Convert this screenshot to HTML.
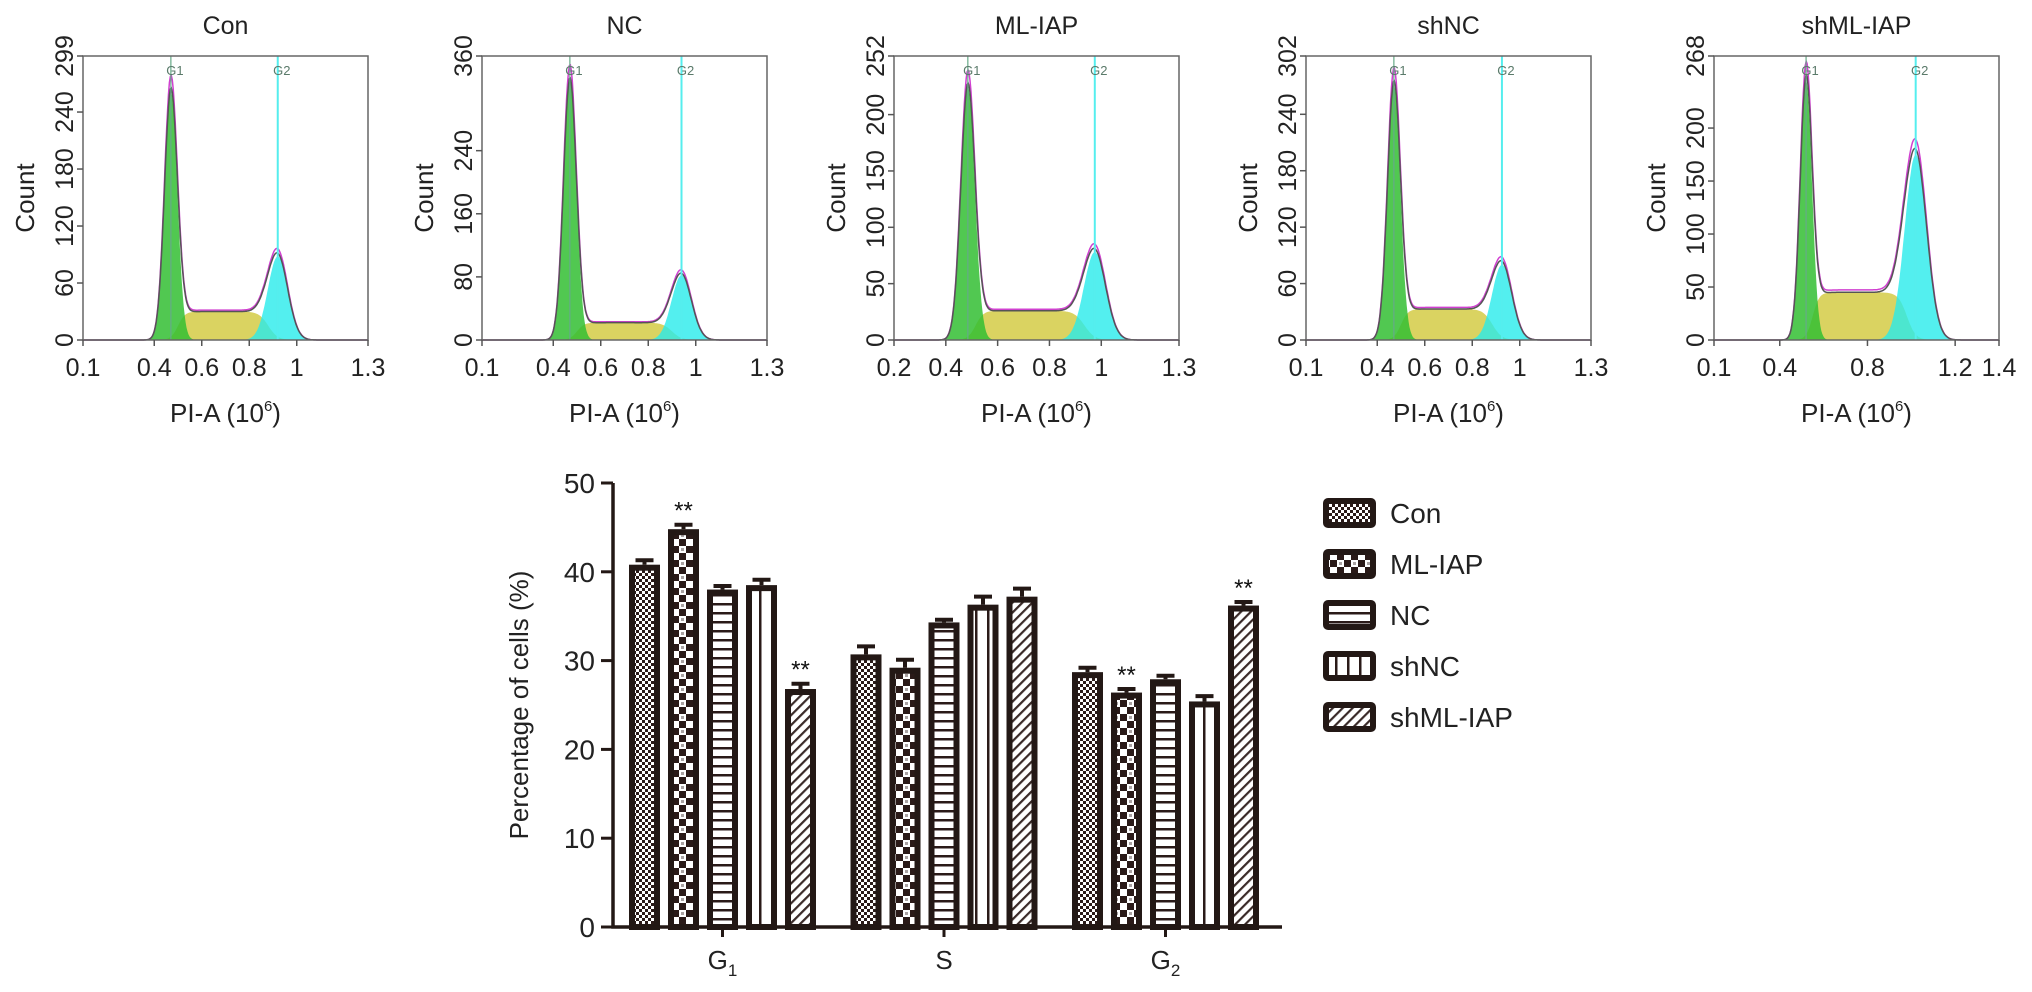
<!DOCTYPE html>
<html><head><meta charset="utf-8">
<style>
html,body{margin:0;padding:0;background:#fff;}
svg{display:block;font-family:"Liberation Sans",Arial,sans-serif;}
</style></head>
<body>
<svg id="fig" width="2032" height="992" viewBox="0 0 2032 992">
<defs>
  <pattern id="pCon" width="6" height="6" patternUnits="userSpaceOnUse">
    <rect width="6" height="6" fill="#fff"/>
    <rect width="3" height="3" fill="#2a1a18"/><rect x="3" y="3" width="3" height="3" fill="#2a1a18"/>
  </pattern>
  <pattern id="pML" width="14" height="14" patternUnits="userSpaceOnUse">
    <rect width="14" height="14" fill="#fff"/>
    <rect x="0" y="0" width="7" height="7" fill="#2a1a18"/>
    <rect x="7" y="7" width="7" height="7" fill="#2a1a18"/>
    <rect x="9" y="2" width="3" height="3" fill="#2a1a18" opacity="0.4"/>
  </pattern>
  <pattern id="pNC" width="8" height="9" patternUnits="userSpaceOnUse">
    <rect width="8" height="9" fill="#fff"/><rect y="0" width="8" height="2.5" fill="#2a1a18"/>
  </pattern>
  <pattern id="pshNC" width="12" height="8" patternUnits="userSpaceOnUse" x="3">
    <rect width="12" height="8" fill="#fff"/><rect x="0" width="2.5" height="8" fill="#2a1a18"/>
  </pattern>
  <pattern id="pshML" width="7" height="7" patternUnits="userSpaceOnUse" patternTransform="rotate(45)">
    <rect width="7" height="7" fill="#fff"/><rect width="2.2" height="7" fill="#3a2a28"/>
  </pattern>
</defs>
<g id="hists"></g>
<g id="bars"></g>
</svg>
<script>
const NS="http://www.w3.org/2000/svg";
function mk(tag,attrs,parent,text){const e=document.createElementNS(NS,tag);for(const k in attrs)e.setAttribute(k,attrs[k]);if(text!==undefined)e.textContent=text;parent.appendChild(e);return e;}

/* ---------- histogram data ---------- */
const panelTitles=["Con","NC","ML-IAP","shNC","shML-IAP"];
const panelLefts=[83,482,894,1306,1714];
const xMins=[0.1,0.1,0.2,0.1,0.1];
const xMaxs=[1.3,1.3,1.3,1.3,1.4];
const xTickLabels=[[0.1,0.4,0.6,0.8,1,1.3],[0.1,0.4,0.6,0.8,1,1.3],[0.2,0.4,0.6,0.8,1,1.3],[0.1,0.4,0.6,0.8,1,1.3],[0.1,0.4,0.8,1.2,1.4]];
const yMaxs=[299,360,252,302,268];
const yTickLabels=[[0,60,120,180,240,299],[0,80,160,240,360],[0,50,100,150,200,252],[0,60,120,180,240,302],[0,50,100,150,200,268]];
const g1Pos=[0.47,0.47,0.485,0.47,0.52];
const g1Height=[262,330,225,272,245];
const g2Pos=[0.92,0.94,0.975,0.925,1.02];
const g2Height=[88,82,78,80,175];
const sHeight=[30,22,26,33,45];

const H=document.getElementById('hists');
const PW=285, PT=56, PB=340;
for(let p=0;p<5;p++){
  const L=panelLefts[p], R=L+PW;
  const g=mk('g',{},H);
  
  
  const xs=v=>L+(v-xMins[p])/(xMaxs[p]-xMins[p])*PW;
  const ys=v=>PB-v/yMaxs[p]*(PB-PT);
  const t=mk('text',{x:(L+R)/2,y:34,'text-anchor':'middle','font-size':25,fill:'#222'},g,panelTitles[p]);
  
  const sg1=0.027, sg2=(p===4?0.05:0.042);
  const G1=x=>g1Height[p]*Math.exp(-0.5*((x-g1Pos[p])/sg1)**2);
  const G2=x=>g2Height[p]*Math.exp(-0.5*((x-g2Pos[p])/sg2)**2);
  const sig=z=>1/(1+Math.exp(-z));
  const S=x=>sHeight[p]*sig((x-(g1Pos[p]+0.03))/0.015)*sig(((g2Pos[p]-0.04)-x)/0.02);
  const N=300;
  function area(f,col,name){let d='M'+xs(xMins[p])+','+PB;
    for(let i=0;i<=N;i++){const x=xMins[p]+(xMaxs[p]-xMins[p])*i/N;d+=' L'+xs(x).toFixed(1)+','+ys(f(x)).toFixed(1);}
    d+=' L'+R+','+PB+'Z';const e=mk('path',{d:d,fill:col},g);}
  area(S,'rgba(214,206,80,0.9)','s-phase-fill');
  area(G1,'rgba(50,190,50,0.85)','g1-fill');
  area(G2,'rgba(40,235,235,0.8)','g2-fill');
  function line(f,col,w,name){let d='';
    for(let i=0;i<=N;i++){const x=xMins[p]+(xMaxs[p]-xMins[p])*i/N;d+=(i?' L':'M')+xs(x).toFixed(1)+','+ys(f(x)).toFixed(1);}
    const e=mk('path',{d:d,fill:'none',stroke:col,'stroke-width':w},g);}
  const tot=x=>G1(x)+G2(x)+S(x);
  line(x=>tot(x)*1.05,'#d040d0',1.5,'model-fit-line');
  line(tot,'#555',1.5,'data-line');
  const l1=mk('line',{x1:xs(g1Pos[p]),x2:xs(g1Pos[p]),y1:PT,y2:PB,stroke:'#6a8',"stroke-width":1.2},g);
  
  const l2=mk('line',{x1:xs(g2Pos[p]),x2:xs(g2Pos[p]),y1:PT,y2:PB,stroke:'#5ee',"stroke-width":2},g);
  
  const a1=mk('text',{x:xs(g1Pos[p])+4,y:75,'text-anchor':'middle','font-size':13,fill:'#5a7a6a'},g,'G1');
  
  const a2=mk('text',{x:xs(g2Pos[p])+4,y:75,'text-anchor':'middle','font-size':13,fill:'#5a7a6a'},g,'G2');
  
  const fr=mk('rect',{x:L,y:PT,width:PW,height:PB-PT,fill:'none',stroke:'#666','stroke-width':1.5},g);
  
  for(const v of xTickLabels[p]){
    mk('line',{x1:xs(v),x2:xs(v),y1:PB,y2:PB+6,stroke:'#555','stroke-width':1.5},g);
    const tl=mk('text',{x:xs(v),y:376,'text-anchor':'middle','font-size':25,fill:'#222'},g,String(v));
    
  }
  for(const v of yTickLabels[p]){
    mk('line',{x1:L-6,x2:L,y1:ys(v),y2:ys(v),stroke:'#555','stroke-width':1.5},g);
    const tl=mk('text',{x:L-10,y:ys(v),'text-anchor':'middle','font-size':25,fill:'#222',transform:`rotate(-90 ${L-10} ${ys(v)})`},g,String(v));
    
  }
  const yt=mk('text',{x:L-58,y:(PT+PB)/2,'text-anchor':'middle','font-size':26,fill:'#222',transform:`rotate(-90 ${L-58} ${(PT+PB)/2}) translate(0 9)`},g,'Count');
  
  const xt=mk('text',{x:(L+R)/2,y:422,'text-anchor':'middle','font-size':26,fill:'#222'},g);
  
  xt.appendChild(document.createTextNode('PI-A (10'));
  mk('tspan',{'font-size':15,dy:-11},xt,'6');
  mk('tspan',{dy:11},xt,')');
}

/* ---------- bar chart data ---------- */
const phases=["G1","S","G2"];
const groups=["Con","ML-IAP","NC","shNC","shML-IAP"];
const valCon=[40.8,30.7,28.7];
const valML=[44.8,29.2,26.4];
const valNC=[38.0,34.3,27.9];
const valshNC=[38.5,36.3,25.4];
const valshML=[26.8,37.2,36.2];
const errCon=[0.5,0.9,0.5];
const errML=[0.5,0.9,0.4];
const errNC=[0.4,0.3,0.4];
const errshNC=[0.6,0.9,0.6];
const errshML=[0.6,0.9,0.4];
const sigML=[true,false,true];
const sigshML=[true,false,true];
const yTicks=[0,10,20,30,40,50];

const series=[valCon,valML,valNC,valshNC,valshML];
const errs=[errCon,errML,errNC,errshNC,errshML];
const sigs=[null,sigML,null,null,sigshML];
const fills=['url(#pCon)','url(#pML)','url(#pNC)','url(#pshNC)','url(#pshML)'];
const B=document.getElementById('bars');
const AX=613, Y0=927, Y50=483;
const yb=v=>Y0-(v/50)*(Y0-Y50);
const xb=(ci,si)=>629+ci*221.5+si*39;
const BW=31;
const dark='#231815';
for(let ci=0;ci<phases.length;ci++){
  for(let si=0;si<groups.length;si++){
    const v=series[si][ci], e=errs[si][ci], x=xb(ci,si);
    const eb=mk('g',{},B);
    
    
    mk('line',{x1:x+BW/2,x2:x+BW/2,y1:yb(v),y2:yb(v+e),stroke:dark,'stroke-width':4},eb);
    mk('line',{x1:x+BW/2-9,x2:x+BW/2+9,y1:yb(v+e),y2:yb(v+e),stroke:dark,'stroke-width':4},eb);
    mk('rect',{x:x+3,y:yb(v)+3,width:BW-6,height:Y0-yb(v)-3,fill:fills[si],stroke:dark,'stroke-width':6},eb);
    if(sigs[si]&&sigs[si][ci]){
      const st=mk('text',{x:x+BW/2,y:yb(v+e)-6,'text-anchor':'middle','font-size':24,fill:'#111'},B,'**');
      
    }
  }
  const cx=xb(ci,2)+BW/2;
  mk('line',{x1:cx,x2:cx,y1:Y0,y2:Y0+10,stroke:dark,'stroke-width':3},B);
  const lab=mk('text',{x:cx,y:969,'text-anchor':'middle','font-size':26,fill:'#222'},B);
  
  lab.appendChild(document.createTextNode(phases[ci][0]));
  if(phases[ci].length>1) mk('tspan',{'font-size':17,dy:7},lab,phases[ci].slice(1));
}
const ya=mk('path',{d:`M${AX},${Y50} V${Y0} H1282`,fill:'none',stroke:dark,'stroke-width':3.5},B);

for(const v of yTicks){
  mk('line',{x1:AX-12,x2:AX,y1:yb(v),y2:yb(v),stroke:dark,'stroke-width':3},B);
  const t=mk('text',{x:AX-18,y:yb(v)+10,'text-anchor':'end','font-size':28,fill:'#222'},B,String(v));
  
}
const yt=mk('text',{x:528,y:705,'text-anchor':'middle','font-size':26,fill:'#222',transform:'rotate(-90 528 705)'},B,'Percentage of cells (%)');

for(let si=0;si<groups.length;si++){
  const cy=513+si*51;
  const lg=mk('g',{},B);
  
  
  mk('rect',{x:1326,y:cy-12,width:47,height:24,fill:fills[si],stroke:dark,'stroke-width':6,rx:2},lg);
  mk('text',{x:1390,y:cy+10,'font-size':28,fill:'#222'},lg,groups[si]);
}
</script>
</body></html>
